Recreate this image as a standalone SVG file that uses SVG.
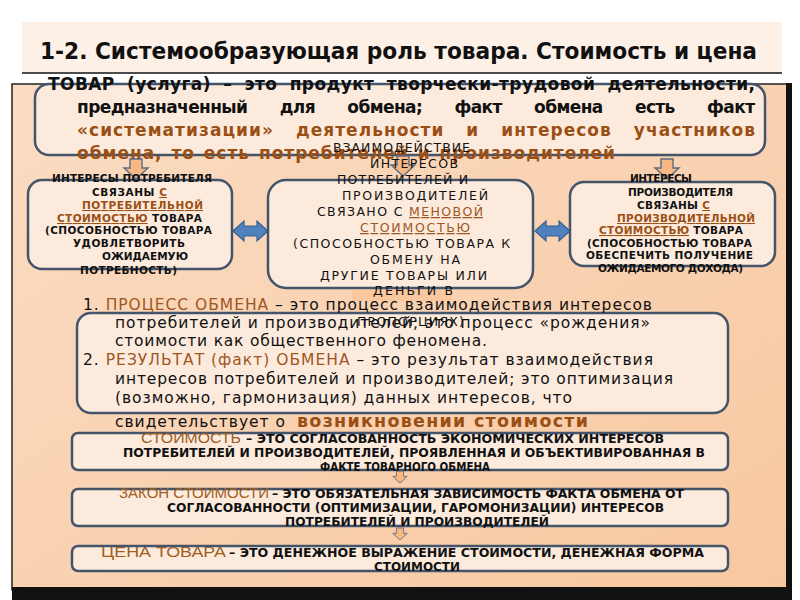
<svg xmlns="http://www.w3.org/2000/svg" width="800" height="600" viewBox="0 0 800 600">
<defs>
<linearGradient id="pg" x1="0" y1="0" x2="1" y2="1">
<stop offset="0" stop-color="#fbdcc3"/>
<stop offset="1" stop-color="#f7c8a0"/>
</linearGradient>
<path id="dn" d="M-6,0 H6 V9 H12 L0,20 L-12,9 H-6 Z"/>
</defs>
<style>
.box{fill:#fcebdd;stroke:#44546a;stroke-width:2.5}
.t{font-family:"DejaVu Sans","Liberation Sans",sans-serif;fill:#111}
.b{font-weight:bold}
.br{fill:#9b4f14}
.br2{fill:#a0561f}
.u{text-decoration:underline}
.s{font-size:10.5px;font-weight:bold}
.m{font-size:12.5px}
.l{font-size:15.5px}
.c{font-family:"DejaVu Sans Condensed","Liberation Sans Narrow","Liberation Sans",sans-serif;font-weight:bold;font-size:12.5px;fill:#111}
.cb{font-family:"Liberation Sans Narrow","Liberation Sans",sans-serif;font-size:14px;fill:#a15c1c}
.arr{fill:#f7b884;stroke:#5b6b82;stroke-width:1.4}
.dbl{fill:#4f81bd;stroke:#3a5f8f;stroke-width:1.2}
</style>
<rect width="800" height="600" fill="#ffffff"/>
<g id="title">
<rect x="22" y="22" width="760" height="50" fill="#fdf0e6"/>
<text x="40" y="59" font-family="DejaVu Sans Condensed,Liberation Sans Narrow,Liberation Sans,sans-serif" font-weight="bold" font-size="22.5" fill="#111" textLength="717" lengthAdjust="spacingAndGlyphs">1-2. Системообразующая роль товара. Стоимость и цена</text>
<line x1="22" y1="73" x2="782" y2="73" stroke="#111" stroke-width="1.5"/>
</g>
<g id="panel">
<rect x="12" y="84" width="778" height="506" fill="url(#pg)" stroke="#222" stroke-width="1.5"/>
<rect x="786" y="83" width="6" height="517" fill="#111"/>
<rect x="12" y="587" width="780" height="13" fill="#111"/>
</g>
<g id="node-top">
<rect class="box" x="35" y="84" width="730" height="71" rx="14"/>
<text class="t b" font-size="17" x="48" y="90" textLength="707" lengthAdjust="spacing" word-spacing="6">ТОВАР (услуга) – это продукт творчески-трудовой деятельности,</text>
<text class="t b" font-size="17" x="77" y="113" textLength="678" lengthAdjust="spacing" word-spacing="27">предназначенный для обмена; факт обмена есть факт</text>
<text class="t b br" font-size="17" x="77" y="136" textLength="678" lengthAdjust="spacing" word-spacing="15">«систематизации» деятельности и интересов участников</text>
<text class="t b br" font-size="17" x="77" y="159" textLength="538" lengthAdjust="spacing" word-spacing="2">обмена, то есть потребителей и производителей</text>
</g>
<g id="connectors">
<use href="#dn" class="arr" transform="translate(136,159)"/>
<use href="#dn" class="arr" transform="translate(403,156)"/>
<use href="#dn" class="arr" transform="translate(667,159)"/>
<path class="dbl" d="M233,231 L244,221 V226 H257 V221 L268,231 L257,241 V236 H244 V241 Z"/>
<path class="dbl" d="M535,231 L546,221 V226 H559 V221 L570,231 L559,241 V236 H546 V241 Z"/>
<line x1="300" y1="288" x2="500" y2="288" stroke="#44546a" stroke-width="2"/>
<rect x="352" y="290" width="100" height="11" fill="#fbc79e"/>
<use href="#dn" class="arr" transform="translate(400,471) scale(0.6)"/>
<use href="#dn" class="arr" transform="translate(400,528) scale(0.6)"/>
</g>
<g id="node-left">
<rect class="box" x="28" y="180" width="204" height="89" rx="14"/>
<text class="t s" x="52" y="182" textLength="160" lengthAdjust="spacing">ИНТЕРЕСЫ ПОТРЕБИТЕЛЯ</text>
<text class="t s" x="92" y="196" textLength="75" lengthAdjust="spacing">СВЯЗАНЫ <tspan class="br u">С</tspan></text>
<text class="t s br u" x="82" y="209" textLength="121" lengthAdjust="spacing">ПОТРЕБИТЕЛЬНОЙ</text>
<text class="t s" x="57" y="222" textLength="145" lengthAdjust="spacing"><tspan class="br u">СТОИМОСТЬЮ</tspan> ТОВАРА</text>
<text class="t s" x="45" y="234" textLength="167" lengthAdjust="spacing">(СПОСОБНОСТЬЮ ТОВАРА</text>
<text class="t s" x="73" y="247" textLength="112" lengthAdjust="spacing">УДОВЛЕТВОРИТЬ</text>
<text class="t s" x="102" y="260" textLength="86" lengthAdjust="spacing">ОЖИДАЕМУЮ</text>
<text class="t s" x="80" y="274" textLength="97" lengthAdjust="spacing">ПОТРЕБНОСТЬ)</text>
</g>
<g id="node-center">
<rect class="box" x="268" y="180" width="265" height="108" rx="18"/>
<text class="t m" x="333" y="152" textLength="137" lengthAdjust="spacing">ВЗАИМОДЕЙСТВИЕ</text>
<text class="t m" x="370" y="168" textLength="88" lengthAdjust="spacing">ИНТЕРЕСОВ</text>
<text class="t m" x="337" y="184" textLength="131" lengthAdjust="spacing">ПОТРЕБИТЕЛЕЙ И</text>
<text class="t m" x="342" y="200" textLength="146" lengthAdjust="spacing">ПРОИЗВОДИТЕЛЕЙ</text>
<text class="t m" x="317" y="216" textLength="166" lengthAdjust="spacing">СВЯЗАНО С <tspan class="br2 u">МЕНОВОЙ</tspan></text>
<text class="t m br2 u" x="360" y="232" textLength="110" lengthAdjust="spacing">СТОИМОСТЬЮ</text>
<text class="t m" x="293" y="248" textLength="217" lengthAdjust="spacing">(СПОСОБНОСТЬЮ ТОВАРА К</text>
<text class="t m" x="370" y="264" textLength="90" lengthAdjust="spacing">ОБМЕНУ НА</text>
<text class="t m" x="320" y="280" textLength="167" lengthAdjust="spacing">ДРУГИЕ ТОВАРЫ ИЛИ</text>
<text class="t m" x="373" y="295" textLength="80" lengthAdjust="spacing">ДЕНЬГИ В</text>
</g>
<g id="node-right">
<rect class="box" x="570" y="182" width="205" height="84" rx="14"/>
<text class="t s" x="630" y="182" textLength="62" lengthAdjust="spacing">ИНТЕРЕСЫ</text>
<text class="t s" x="628" y="196" textLength="105" lengthAdjust="spacing">ПРОИЗВОДИТЕЛЯ</text>
<text class="t s" x="637" y="209" textLength="73" lengthAdjust="spacing">СВЯЗАНЫ <tspan class="br u">С</tspan></text>
<text class="t s br u" x="617" y="222" textLength="138" lengthAdjust="spacing">ПРОИЗВОДИТЕЛЬНОЙ</text>
<text class="t s" x="599" y="234" textLength="144" lengthAdjust="spacing"><tspan class="br u">СТОИМОСТЬЮ</tspan> ТОВАРА</text>
<text class="t s" x="587" y="247" textLength="165" lengthAdjust="spacing">(СПОСОБНОСТЬЮ ТОВАРА</text>
<text class="t s" x="586" y="259" textLength="167" lengthAdjust="spacing">ОБЕСПЕЧИТЬ  ПОЛУЧЕНИЕ</text>
<text class="t s" x="598" y="272" textLength="145" lengthAdjust="spacing">ОЖИДАЕМОГО ДОХОДА)</text>
</g>
<g id="node-list">
<rect class="box" x="77" y="313" width="651" height="100" rx="14"/>
<text class="t l" x="83" y="310" textLength="569" lengthAdjust="spacing">1. <tspan class="br2">ПРОЦЕСС ОБМЕНА</tspan> – это процесс взаимодействия интересов</text>
<text class="t l" x="115" y="328" textLength="535" lengthAdjust="spacing">потребителей и производителей; это процесс «рождения»</text>
<text class="t l" x="115" y="346" textLength="372" lengthAdjust="spacing">стоимости как общественного феномена.</text>
<text class="t l" x="83" y="365" textLength="570" lengthAdjust="spacing">2. <tspan class="br2">РЕЗУЛЬТАТ (факт) ОБМЕНА</tspan> – это результат взаимодействия</text>
<text class="t l" x="115" y="384" textLength="558" lengthAdjust="spacing">интересов потребителей и производителей; это оптимизация</text>
<text class="t l" x="115" y="403" textLength="457" lengthAdjust="spacing">(возможно, гармонизация) данных интересов, что</text>
<text class="t l" x="115" y="427" textLength="170" lengthAdjust="spacing">свидетельствует о</text>
<text class="t b br" font-size="17.5" x="297" y="427" textLength="291" lengthAdjust="spacing">возникновении стоимости</text>
<text class="t m" x="357" y="326" textLength="107" lengthAdjust="spacing">ПРОПОРЦИЯХ)</text>
</g>
<g id="node-value">
<rect class="box" x="72" y="433" width="656" height="37" rx="6"/>
<text class="cb" x="141" y="443" textLength="100" lengthAdjust="spacingAndGlyphs">СТОИМОСТЬ</text>
<text class="c" x="246" y="443" textLength="418" lengthAdjust="spacingAndGlyphs">– ЭТО СОГЛАСОВАННОСТЬ ЭКОНОМИЧЕСКИХ ИНТЕРЕСОВ</text>
<text class="c" x="123" y="457" textLength="582" lengthAdjust="spacingAndGlyphs">ПОТРЕБИТЕЛЕЙ И ПРОИЗВОДИТЕЛЕЙ, ПРОЯВЛЕННАЯ И ОБЪЕКТИВИРОВАННАЯ  В</text>
<text class="c" x="320" y="471" textLength="170" lengthAdjust="spacingAndGlyphs">ФАКТЕ  ТОВАРНОГО ОБМЕНА</text>
</g>
<g id="node-law">
<rect class="box" x="72" y="489" width="656" height="37" rx="6"/>
<text class="cb" x="119" y="498" textLength="150" lengthAdjust="spacingAndGlyphs">ЗАКОН СТОИМОСТИ</text>
<text class="c" x="272" y="498" textLength="412" lengthAdjust="spacingAndGlyphs">– ЭТО ОБЯЗАТЕЛЬНАЯ ЗАВИСИМОСТЬ ФАКТА ОБМЕНА ОТ</text>
<text class="c" x="167" y="512" textLength="497" lengthAdjust="spacingAndGlyphs">СОГЛАСОВАННОСТИ (ОПТИМИЗАЦИИ, ГАРОМОНИЗАЦИИ) ИНТЕРЕСОВ</text>
<text class="c" x="285" y="526" textLength="264" lengthAdjust="spacingAndGlyphs">ПОТРЕБИТЕЛЕЙ И ПРОИЗВОДИТЕЛЕЙ</text>
</g>
<g id="node-price">
<rect class="box" x="72" y="546" width="656" height="25" rx="6"/>
<text class="cb" font-size="15" x="101" y="557" textLength="125" lengthAdjust="spacingAndGlyphs">ЦЕНА ТОВАРА</text>
<text class="c" x="229" y="557" textLength="475" lengthAdjust="spacingAndGlyphs">– ЭТО ДЕНЕЖНОЕ ВЫРАЖЕНИЕ СТОИМОСТИ,  ДЕНЕЖНАЯ ФОРМА</text>
<text class="c" x="374" y="571" textLength="86" lengthAdjust="spacingAndGlyphs">СТОИМОСТИ</text>
</g>
</svg>
